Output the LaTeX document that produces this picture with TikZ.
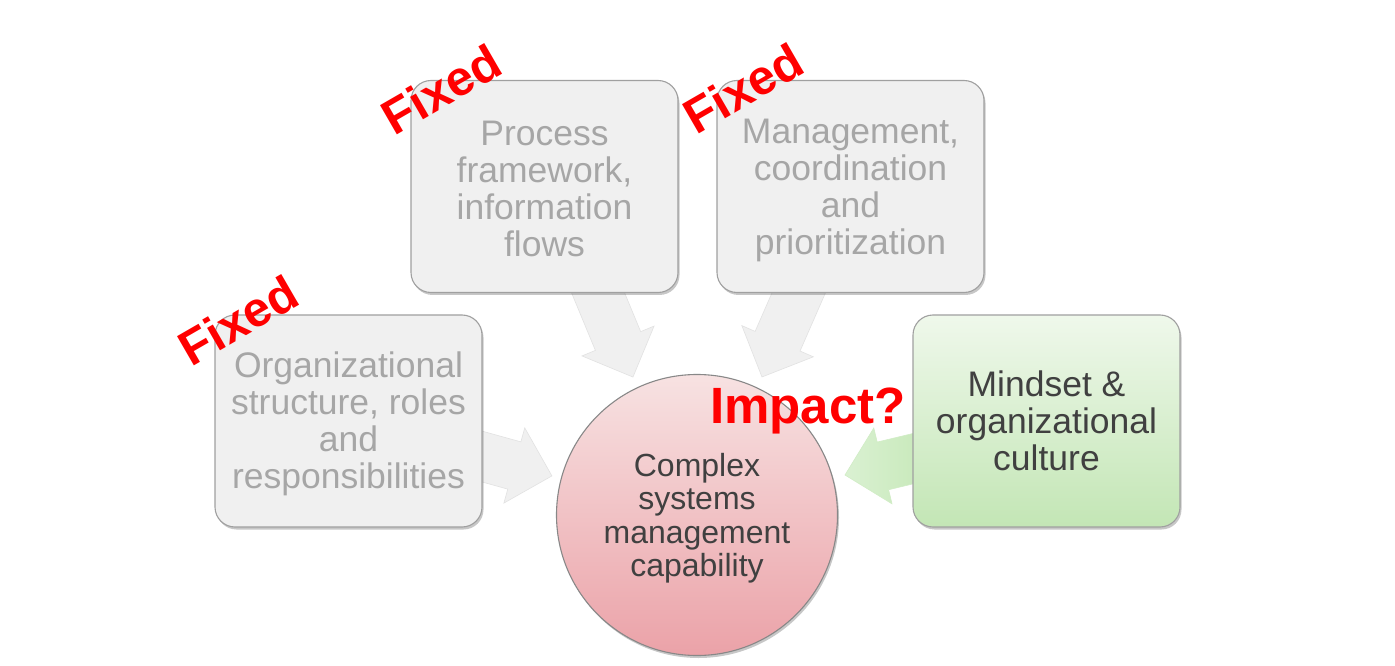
\documentclass[tikz,border=0pt]{standalone}
\usepackage{fontspec}
\setmainfont{Liberation Sans}
\usetikzlibrary{shadows}
\definecolor{boxline}{HTML}{A0A0A0}
\definecolor{boxfill}{HTML}{F0F0F0}
\definecolor{boxtext}{HTML}{A6A6A6}
\definecolor{darktext}{HTML}{404040}
\definecolor{pinktop}{HTML}{F7E2E2}
\definecolor{pinkbot}{HTML}{EBA2A8}
\definecolor{greentop}{HTML}{EFF8EB}
\definecolor{greenbot}{HTML}{C3E6B5}
\definecolor{arrowgray}{HTML}{F0F0F0}
\definecolor{arrowedge}{HTML}{E2E2E2}
\definecolor{arrowgreenA}{HTML}{DAF1D2}
\definecolor{arrowgreenB}{HTML}{C6E8B8}
\definecolor{fixedred}{HTML}{FF0000}
\newcommand{\blockarrow}[5]{%
  \path[#5, shift={(#1,#2)}, rotate=#3]
    (0,24.5) -- (#4,24.5) -- (#4,39) -- ({#4+39},0) -- (#4,-39) -- (#4,-24.5) -- (0,-24.5) -- cycle;}
\begin{document}
\begin{tikzpicture}[x=1pt,y=1pt,
  box/.style={draw=boxline, line width=1.1pt, rounded corners=20pt,
    minimum width=267pt, minimum height=212pt, inner sep=0pt,
    drop shadow={shadow xshift=1.5pt, shadow yshift=-2.5pt, opacity=0.22, fill=black}},
  graybox/.style={box, fill=boxfill},
  greenbox/.style={box, top color=greentop, bottom color=greenbot},
  boxlabel/.style={align=center, inner sep=0pt, font=\fontsize{35.5}{37}\selectfont},
  graylabel/.style={boxlabel, text=boxtext},
  darklabel/.style={boxlabel, text=darktext},
  hub/.style={circle, draw=boxline!85!black, line width=1.1pt, minimum size=281pt,
    top color=pinktop, bottom color=pinkbot, inner sep=0pt,
    drop shadow={shadow xshift=1.5pt, shadow yshift=-2.5pt, opacity=0.22, fill=black}},
  hublabel/.style={align=center, inner sep=0pt, text=darktext, font=\fontsize{32}{33.5}\selectfont},
  grayarrow/.style={fill=arrowgray, draw=arrowedge, line width=0.6pt},
  greenarrow/.style={left color=arrowgreenA, right color=arrowgreenB, draw=arrowgreenB!80!white, line width=0.6pt},
  fixedlabel/.style={text=fixedred, font=\fontsize{49}{49}\selectfont\bfseries, rotate=30, inner sep=0pt},
  impactlabel/.style={text=fixedred, font=\fontsize{51}{51}\selectfont\bfseries, inner sep=0pt, anchor=base west}
]
\useasboundingbox (0,0) rectangle (1395,665);
\fill[white] (0,0) rectangle (1395,665);

% block arrows
\blockarrow{594}{382}{-67.5}{62.8}{grayarrow}
\blockarrow{802.8}{381.5}{-113.6}{63}{grayarrow}
\blockarrow{470}{211.8}{-15.5}{46}{grayarrow}
\blockarrow{925}{209.2}{-166.5}{43.3}{greenarrow}

% hub
\node[hub] (hub) at (697,150) {};
\node[hublabel] (hubtext) at ([yshift=-3pt]hub.center) {Complex\\systems\\management\\capability};

% boxes
\node[graybox] (org) at (348.5,244) {};
\node[graylabel] (orgtext) at ([yshift=-3pt]org.center) {Organizational\\structure, roles\\and\\responsibilities};
\node[graybox] (proc) at (544.5,478.5) {};
\node[graylabel] (proctext) at ([yshift=-2pt]proc.center) {Process\\framework,\\information\\flows};
\node[graybox] (mgmt) at (850.5,478.5) {};
\node[graylabel] (mgmttext) at ([yshift=-4pt]mgmt.center) {Management,\\coordination\\and\\prioritization};
\node[greenbox] (mind) at (1046.5,244) {};
\node[darklabel] (mindtext) at (mind.center) {Mindset \&\\organizational\\culture};

% labels
\node[fixedlabel] (f1) at (441,576) {Fixed};
\node[fixedlabel] (f2) at (743,577) {Fixed};
\node[fixedlabel] (f3) at (238,345) {Fixed};
\node[impactlabel] (imp) at (710,242) {Impact?};
\end{tikzpicture}
\end{document}
